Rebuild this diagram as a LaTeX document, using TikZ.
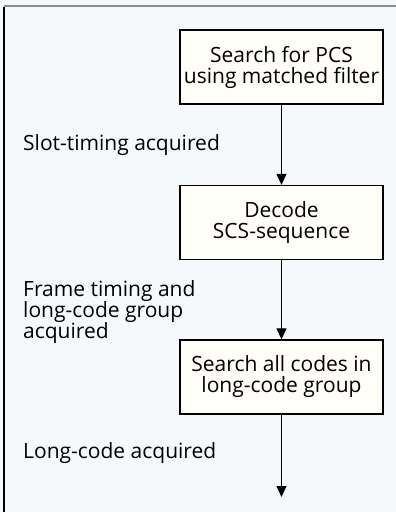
\documentclass[tikz,border=0pt]{standalone}
\usepackage{fontspec}
\setmainfont{Open Sans}
\usetikzlibrary{arrows.meta}
\definecolor{panel}{HTML}{F5F9FB}
\definecolor{boxfill}{HTML}{FFFEF8}
\begin{document}
\begin{tikzpicture}
            [x=1pt,y=-1pt,
             stage/.style ={draw,line width=1.3pt,fill=boxfill,minimum width=203pt,minimum height=74pt,inner sep=0pt,align=center,font=\fontsize{21}{21}\selectfont},
             note/.style ={anchor=base west,align=left,inner sep=0pt,font=\fontsize{21}{21}\selectfont},
             flow/.style ={-{Triangle[length=11pt,width=10pt]},line width=1pt}]
            \fill[panel] (0,0) rectangle (396,512);
            \useasboundingbox (0,0) rectangle (396,512);
            \draw[gray!90,line width=2pt] (4,6) -- (396,6);
            \draw[line width=1.3pt] (4,7) -- (4,512);
            \node[stage] (pcs) at (281.5,67) {Search for PCS\\using matched filter};
            \node[stage] (scs) at (281.5,222.5) {Decode\\SCS-sequence};
            \node[stage] (grp) at (281.5,377) {Search all codes in\\long-code group};
            \coordinate (out) at (281.5,497);
            \node[note] (slot) at (23,150) {Slot-timing acquired};
            % base anchor sits on the last line
            \node[note] (frame) at (23,338) {Frame timing and\\long-code group\\acquired};
            \node[note] (long) at (23,458) {Long-code acquired};
            \draw[flow] (pcs) to (scs) ;
            \draw[flow] (scs) to (grp) ;
            \draw[flow] (grp) to (out) ;
        \end{tikzpicture}
\end{document}
